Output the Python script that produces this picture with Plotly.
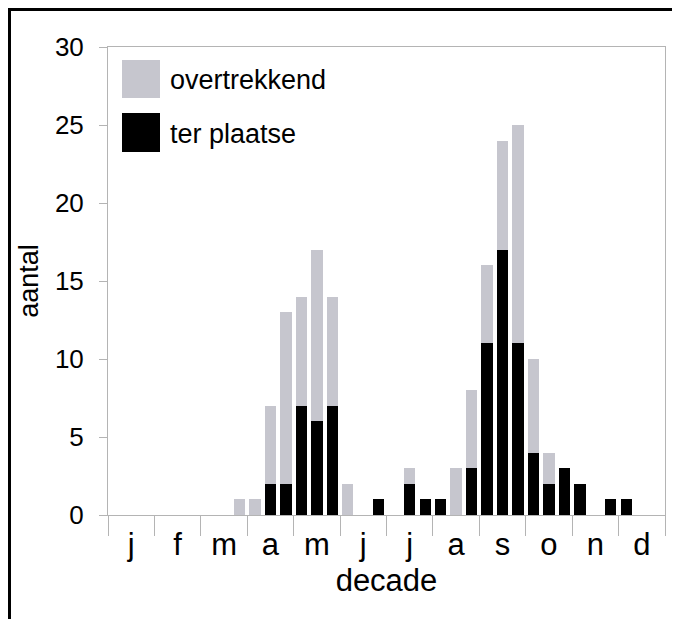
import plotly.graph_objects as go

# decades: 36 (3 per month), index 0..35
decade_index = list(range(36))
month_labels = ["j", "f", "m", "a", "m", "j", "j", "a", "s", "o", "n", "d"]
month_centers = [1, 4, 7, 10, 13, 16, 19, 22, 25, 28, 31, 34]

# total per decade
totaal = [0, 0, 0, 0, 0, 0, 0, 0, 1,
          1, 7, 13, 14, 17, 14, 2, 0, 1,
          0, 3, 1, 1, 3, 8, 16, 24, 25,
          10, 4, 3, 2, 0, 1, 1, 0, 0]
ter_plaatse = [0, 0, 0, 0, 0, 0, 0, 0, 0,
               0, 2, 2, 7, 6, 7, 0, 0, 1,
               0, 2, 1, 1, 0, 3, 11, 17, 11,
               4, 2, 3, 2, 0, 1, 1, 0, 0]
overtrekkend = [t - p for t, p in zip(totaal, ter_plaatse)]

GREY = "#c6c6ce"
AXIS = "#b4b4b4"
FONT = "Arial, Liberation Sans, sans-serif"

fig = go.Figure()
fig.add_trace(go.Bar(x=decade_index, y=ter_plaatse, name="ter plaatse",
                     marker=dict(color="#000000", line=dict(width=0))))
fig.add_trace(go.Bar(x=decade_index, y=overtrekkend, name="overtrekkend",
                     marker=dict(color=GREY, line=dict(width=0))))

# page body has an 8px margin: figure is placed at (8, 8) in the window
OFF = 8
W, H = 680 - OFF, 619 - OFF
L, R, T, B = 108 - OFF, 15, 47 - OFF, 104
pw, ph = W - L - R, H - T - B

def px(x):  # screen x -> paper
    return (x - OFF - L) / pw

def py(y):  # screen y -> paper
    return (H - B - (y - OFF)) / ph

shapes = [
    # outer frame: top and left edges
    dict(type="line", xref="paper", yref="paper", x0=px(OFF), x1=px(680),
         y0=py(OFF + 1.5), y1=py(OFF + 1.5), line=dict(color="black", width=3),
         layer="above"),
    dict(type="line", xref="paper", yref="paper", x0=px(OFF + 1.5), x1=px(OFF + 1.5),
         y0=py(619), y1=py(OFF), line=dict(color="black", width=3),
         layer="above"),
    # legend swatches
    dict(type="rect", xref="paper", yref="paper", x0=px(122), x1=px(160),
         y0=py(98), y1=py(60), line=dict(width=0), fillcolor=GREY),
    dict(type="rect", xref="paper", yref="paper", x0=px(122), x1=px(160),
         y0=py(152), y1=py(113), line=dict(width=0), fillcolor="#000000"),
]
annotations = [
    dict(text="overtrekkend", xref="paper", yref="paper", x=px(168), y=py(80),
         xanchor="left", yanchor="middle", showarrow=False,
         font=dict(size=27, color="black", family=FONT)),
    dict(text="ter plaatse", xref="paper", yref="paper", x=px(168), y=py(134),
         xanchor="left", yanchor="middle", showarrow=False,
         font=dict(size=27, color="black", family=FONT)),
]

fig.update_layout(
    width=W, height=H,
    margin=dict(l=L, r=R, t=T, b=B, autoexpand=False),
    paper_bgcolor="white", plot_bgcolor="white",
    barmode="stack", bargap=0.27,
    showlegend=False,
    font=dict(family=FONT, color="black"),
    shapes=shapes, annotations=annotations,
    xaxis=dict(
        range=[-0.5, 35.5], tickmode="array", tickvals=month_centers,
        ticktext=month_labels, ticks="", showgrid=False, zeroline=False,
        showline=True, linecolor=AXIS, linewidth=1, mirror=True,
        tickfont=dict(size=31), ticklabelstandoff=2,
        minor=dict(ticks="outside", tick0=-0.5, dtick=3, ticklen=20,
                   tickcolor=AXIS, tickwidth=1, showgrid=False),
        title=dict(text="decade", font=dict(size=31), standoff=8),
        automargin=False,
    ),
    yaxis=dict(
        range=[0, 30], tickmode="linear", tick0=0, dtick=5,
        ticks="outside", ticklen=8, tickcolor=AXIS, tickwidth=1,
        showgrid=False, zeroline=False, showline=True, linecolor=AXIS,
        linewidth=1, mirror=True, tickfont=dict(size=26),
        ticklabelstandoff=10,
        title=dict(text="aantal", font=dict(size=27), standoff=8),
        automargin=False,
    ),
)

fig.write_html("out.html", config={"displayModeBar": False})
